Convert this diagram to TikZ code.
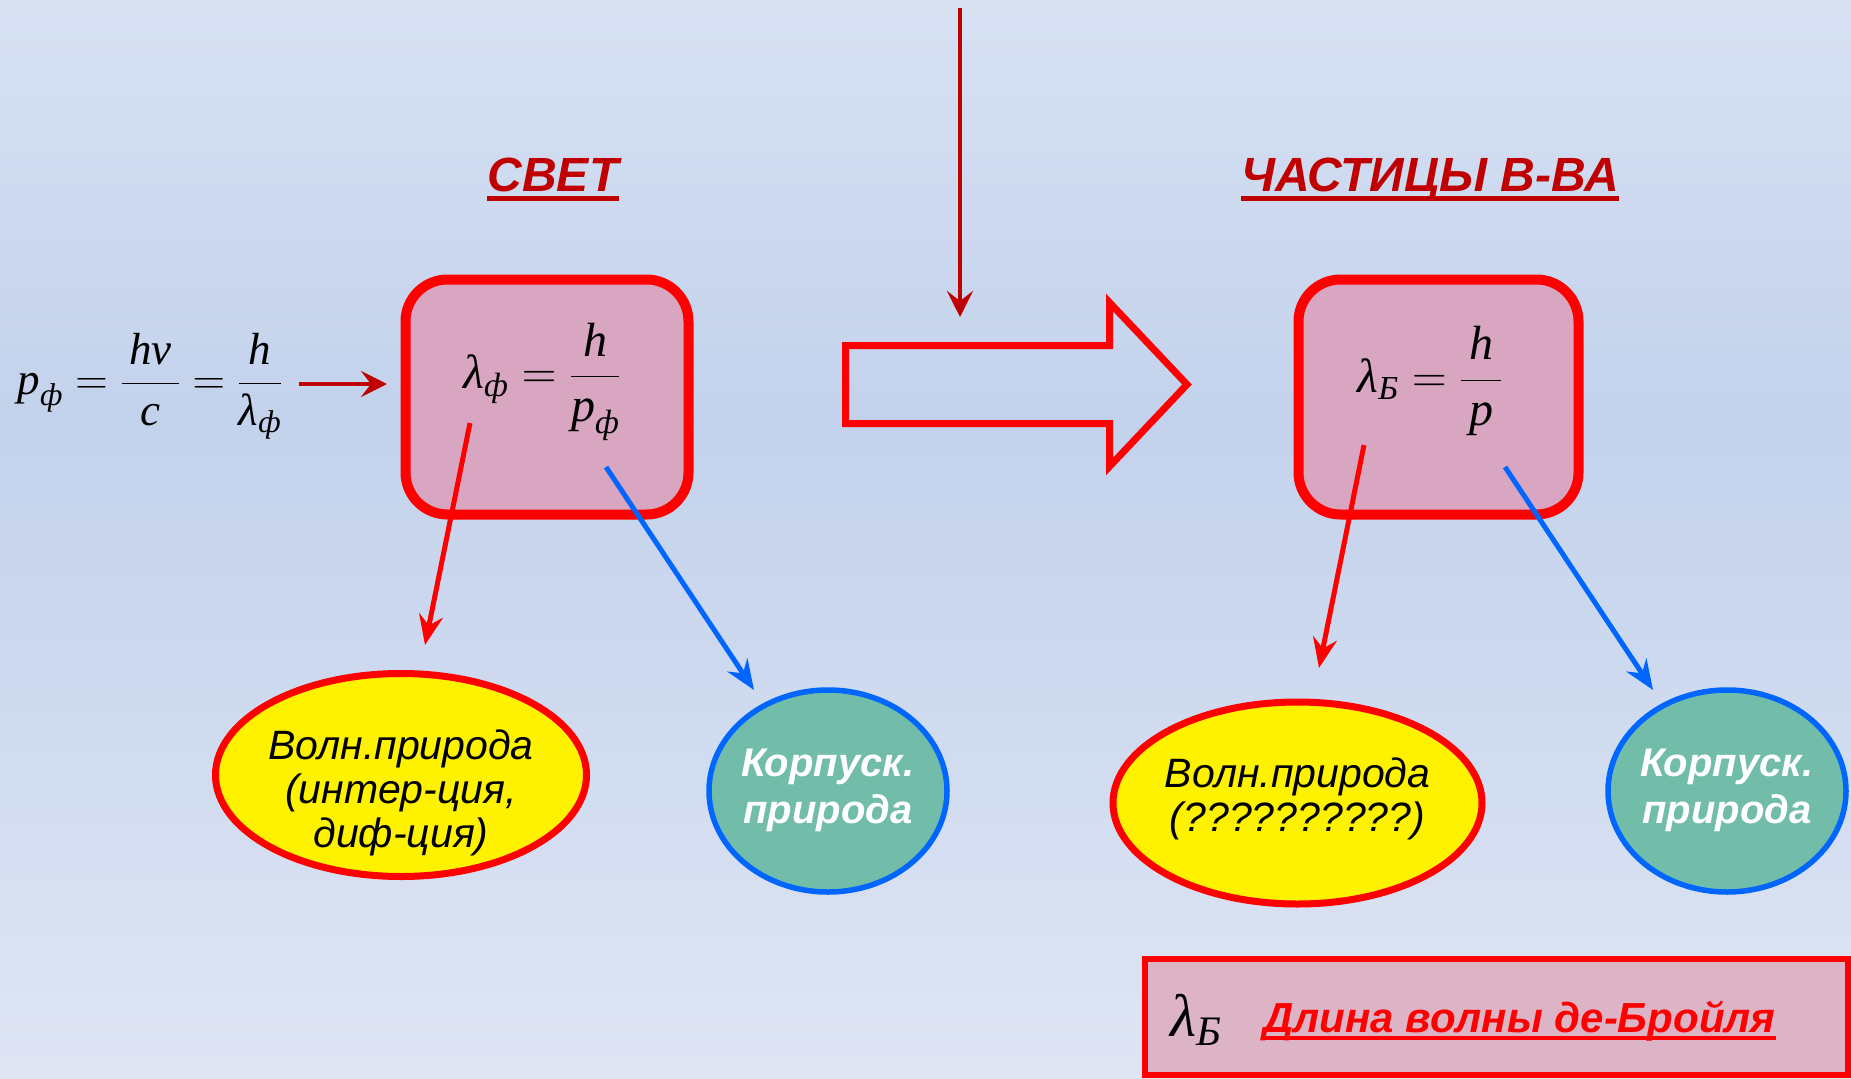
\documentclass[tikz,border=0pt]{standalone}
\usepackage{fix-cm}
\usepackage{amsmath}
\usepackage{fontspec}
\setmainfont{Liberation Serif}
\newfontfamily\arialf{Liberation Sans}
\usetikzlibrary{arrows.meta,shapes.geometric,calc}
\newcommand\mv[1]{\text{\itshape #1}}
\definecolor{dred}{HTML}{C00000}
\definecolor{bred}{HTML}{FF0000}
\definecolor{bblue}{HTML}{0066FF}
\definecolor{boxfill}{HTML}{D8A6C0}
\definecolor{tealfill}{HTML}{72BCAA}
\definecolor{botfill}{HTML}{DDB3C6}
\definecolor{bgtop}{HTML}{D7E1F2}
\definecolor{bgmid}{HTML}{C3D2EC}
\definecolor{bgbot}{HTML}{DFE5F3}
\begin{document}
\begin{tikzpicture}[x=1pt,y=-1pt,
  redbox/.style={draw=bred, line width=10pt, rounded corners=42pt, fill=boxfill, inner sep=0pt},
  yell/.style={ellipse, draw=bred, line width=7pt, fill=yellow, inner sep=0pt},
  tealc/.style={ellipse, draw=bblue, line width=5.5pt, fill=tealfill, inner sep=0pt},
  fml/.style={inner sep=0pt, font=\fontsize{48}{56}\selectfont},
  title/.style={inner sep=0pt, anchor=base, text=dred, font=\arialf\bfseries\itshape\fontsize{48}{56}\selectfont},
  wavetext/.style={inner sep=0pt, align=center, font=\arialf\itshape\fontsize{41}{44}\selectfont},
  corptext/.style={inner sep=0pt, align=center, text=white, font=\arialf\bfseries\itshape\fontsize{40}{47}\selectfont},
  redarr/.style={draw=bred, line width=5pt, -{Stealth[length=30pt,width=24pt,inset=10pt]}},
  bluearr/.style={draw=bblue, line width=5pt, -{Stealth[length=30pt,width=24pt,inset=10pt]}},
  darkarr/.style={draw=dred, line width=4.5pt, -{Stealth[length=26pt,width=26pt,inset=10pt]}},
  uline/.style={line width=5pt}
]
\useasboundingbox (0,0) rectangle (1851,1078);
% background
\shade[top color=bgtop, bottom color=bgmid] (0,0) rectangle (1851,420);
\shade[top color=bgmid, bottom color=bgbot] (0,419) rectangle (1851,1078);

% titles
\node[title] (tsvet) at (553,191) {СВЕТ};
\draw[dred, uline] ([yshift=-7pt]tsvet.base west) -- ([yshift=-7pt]tsvet.base east);
\node[title] (tchast) at (1430,191) {ЧАСТИЦЫ В-ВА};
\draw[dred, uline] ([yshift=-7pt]tchast.base west) -- ([yshift=-7pt]tchast.base east);

% vertical arrow
\coordinate (vtop) at (960,8);
\coordinate (vend) at (960,317);
\draw[darkarr, line width=4pt] (vtop) -- (vend);

% left formula
\node[fml, font=\fontsize{45}{52}\selectfont] (lf) at (150,386) {$\mv{p}_{\mv{ф}}=\dfrac{\,\mv{hν}\,}{\mv{c}}=\dfrac{\,\mv{h}\,}{\mv{λ}_{\mv{ф}}}$};

% boxes
\node[redbox, minimum width=283pt, minimum height=235pt] (box1) at (547,397) {};
\node[redbox, minimum width=280pt, minimum height=235pt] (box2) at (1438.5,397) {};
\node[fml] (f1) at (542,382) {$\mv{λ}_{\mv{ф}}=\dfrac{\,\mv{h}\,}{\mv{p}_{\mv{ф}}}$};
\node[fml] (f2) at (1430,381) {$\mv{λ}_{\mv{Б}}=\dfrac{\,\mv{h}\,}{\mv{p}}$};

% arrow from formula to box
\coordinate (ha) at (299,384);
\coordinate (hb) at (387,384);
\draw[darkarr] (ha) -- (hb);

% big hollow arrow
\draw[bred, line width=7pt, line join=miter]
  (845.5,345.5) -- (1109.5,345.5) -- (1109.5,302.5) -- (1187,384.5) -- (1109.5,466.5) -- (1109.5,423.5) -- (845.5,423.5) -- cycle;

% ellipses
\node[yell, minimum width=371pt, minimum height=203pt] (w1) at (401,775) {};
\node[wavetext] (w1t) at (401,793) {Волн.природа\\(интер-ция,\\диф-ция)};
\node[tealc, minimum width=238pt, minimum height=202pt] (c1) at (828,791) {};
\node[corptext] (c1t) at (828,790) {Корпуск.\\природа};
\node[yell, minimum width=369pt, minimum height=202pt] (w2) at (1297.5,803) {};
\node[wavetext] (w2t) at (1297.5,799) {Волн.природа\\(??????????)};
\node[tealc, minimum width=238pt, minimum height=202pt] (c2) at (1727,791) {};
\node[corptext] (c2t) at (1727,790) {Корпуск.\\природа};

% connectors from boxes
\coordinate (s1) at (470,423);
\coordinate (e1) at (425,645);
\draw[redarr] (s1) -- (e1);
\coordinate (s2) at (606,467);
\coordinate (e2) at (754,690);
\draw[bluearr] (s2) -- (e2);
\coordinate (s3) at (1364,445);
\coordinate (e3) at (1319,668);
\draw[redarr] (s3) -- (e3);
\coordinate (s4) at (1505,467);
\coordinate (e4) at (1653,690);
\draw[bluearr] (s4) -- (e4);

% bottom definition box
\node[draw=bred, line width=6pt, fill=botfill, inner sep=0pt, minimum width=703pt, minimum height=116pt] (defbox) at (1496.5,1017) {};
\node[fml, font=\fontsize{60}{62}\selectfont] (lb) at (1196,1020) {$\mv{λ}_{\mv{Б}}$};
\node[inner sep=0pt, anchor=base west, text=bred, font=\arialf\bfseries\itshape\fontsize{42}{46}\selectfont] (dl) at (1263,1032) {Длина волны де-Бройля};
\draw[bred, line width=4pt] ([yshift=-6pt]dl.base west) -- ([yshift=-6pt]dl.base east);
\end{tikzpicture}
\end{document}
